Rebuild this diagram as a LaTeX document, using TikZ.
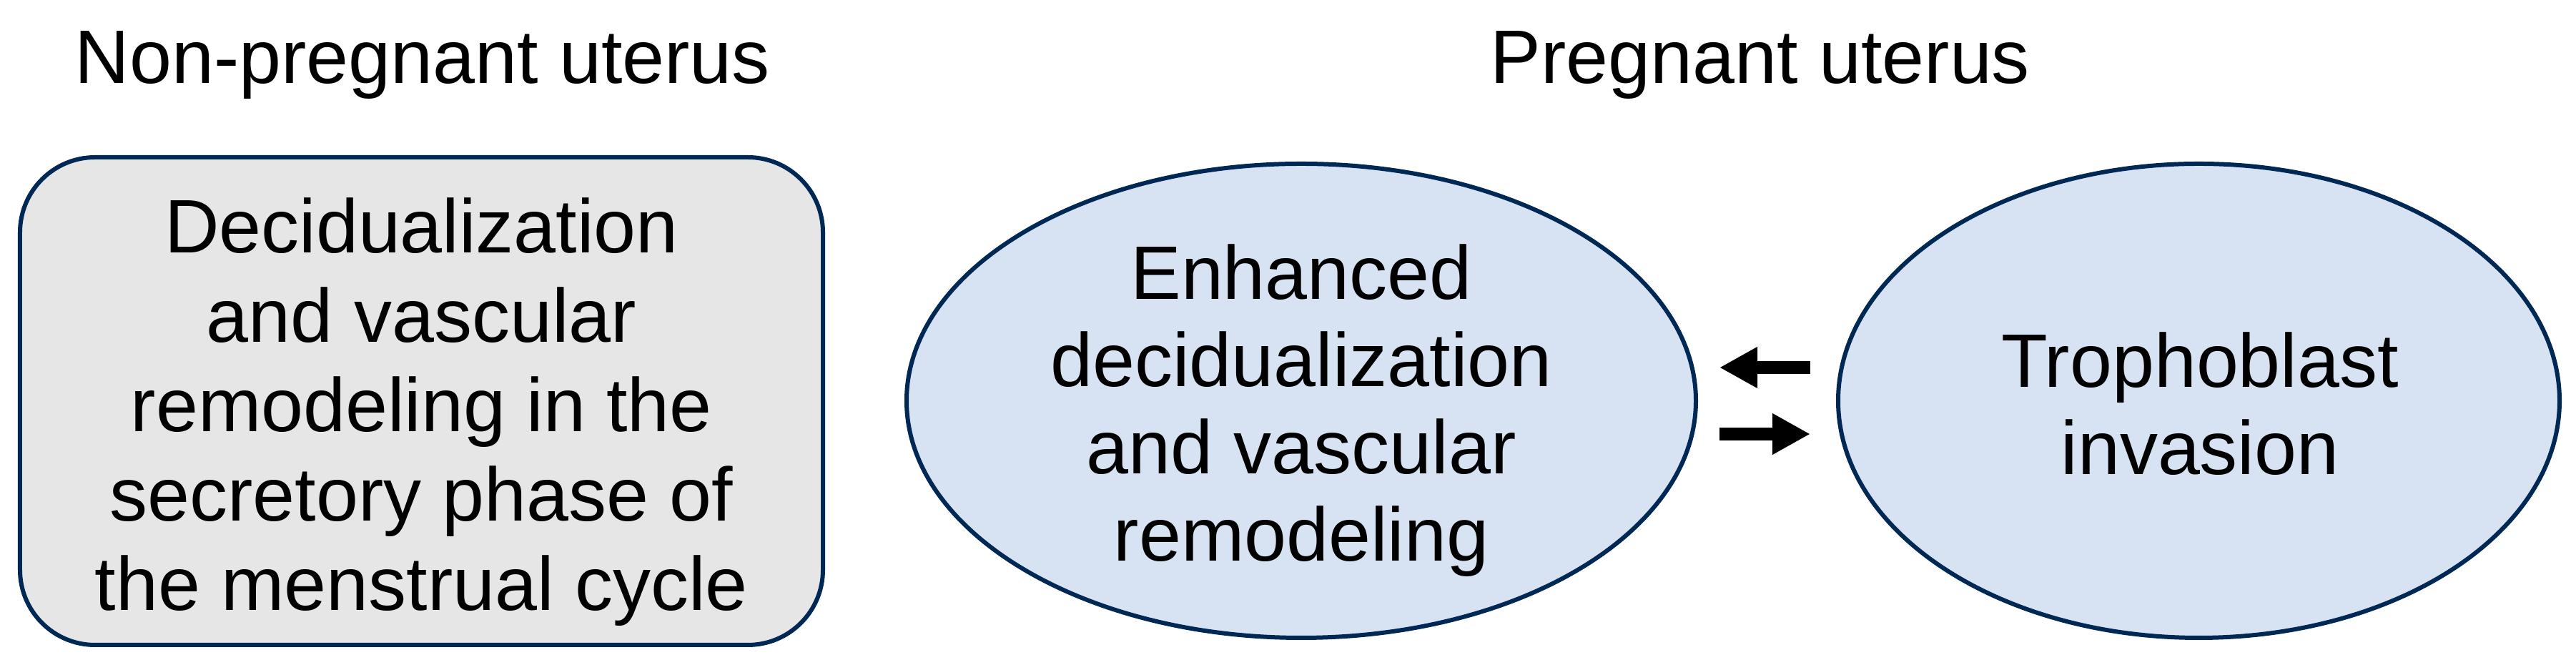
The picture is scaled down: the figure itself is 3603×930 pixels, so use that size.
\documentclass[tikz,border=0pt]{standalone}
\usepackage{fontspec}
\setmainfont{Liberation Sans}
\usetikzlibrary{arrows.meta,shapes.geometric}
\definecolor{navyline}{RGB}{0,40,85}
\definecolor{greyfill}{RGB}{230,230,230}
\definecolor{bluefill}{RGB}{215,227,242}
\begin{document}
\begin{tikzpicture}[x=0.2pt,y=0.2pt,
  titletext/.style={inner sep=0pt,anchor=base,font=\fontsize{21.2pt}{25pt}\selectfont},
  boxtext/.style={inner sep=0pt,align=center,font=\fontsize{21.2pt}{25pt}\selectfont},
  elltext/.style={inner sep=0pt,align=center,font=\fontsize{21.2pt}{24.4pt}\selectfont},
  roundbox/.style={draw=navyline,line width=1.2pt,fill=greyfill,rounded corners=21pt,
    minimum width=224.6pt,minimum height=136.4pt,inner sep=0pt},
  oval/.style={ellipse,draw=navyline,line width=1.2pt,fill=bluefill,inner sep=0pt,
    minimum height=132.6pt},
  bigarrow/.style={line width=3.6pt,-{Triangle[length=10.6pt,width=10.8pt]}}]
\path[use as bounding box] (0,0) rectangle (3603,930);
% titles
\node[titletext] (t1) at (591,813) {Non-pregnant uterus};
\node[titletext] (t2) at (2462,813) {Pregnant uterus};
% shapes
\node[roundbox] (box) at (589.5,369) {};
\node[oval,minimum width=220.8pt] (enh) at (1820,369.5) {};
\node[oval,minimum width=201.8pt] (trop) at (3075.5,369.5) {};
% texts
\node[boxtext] (boxt) at (589.5,353.5) {Decidualization\\and vascular\\remodeling in the\\secretory phase of\\the menstrual cycle};
\node[elltext] (enht) at (1820,355.5) {Enhanced\\decidualization\\and vascular\\remodeling};
\node[elltext] (tropt) at (3077,365.5) {Trophoblast\\invasion};
% arrows
\draw[bigarrow] ([shift={(-36,46.5)}]trop.west) -- ([shift={(30,46.5)}]enh.east);
\draw[bigarrow] ([shift={(30,-46.5)}]enh.east) -- ([shift={(-36,-46.5)}]trop.west);
\end{tikzpicture}
\end{document}
